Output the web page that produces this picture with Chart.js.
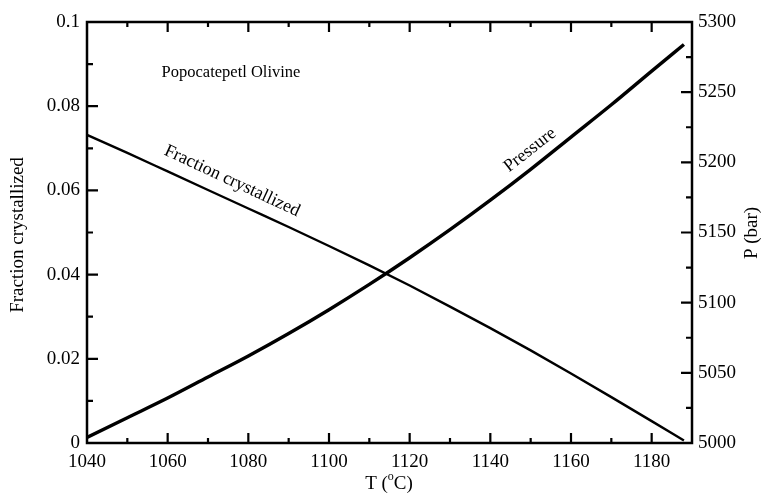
<!DOCTYPE html>
<html>
<head>
<meta charset="utf-8">
<script src="https://cdn.jsdelivr.net/npm/chart.js@4"></script>
<style>
  html, body { margin: 0; padding: 0; background: #fff; }
</style>
</head>
<body>
<canvas id="chart" width="768" height="494"></canvas>
<script>
    // valores (T em °C)
    const temps = [1040, 1050, 1060, 1070, 1080, 1090, 1100, 1110, 1120, 1130, 1140, 1150, 1160, 1170, 1180, 1188];
    const fractionCryst = [0.0732, 0.0689, 0.0645, 0.0601, 0.0557, 0.0513, 0.0468, 0.0422, 0.0374, 0.0324, 0.0273, 0.0220, 0.0165, 0.0109, 0.0052, 0.0006];
    const pressureBar = [5004, 5018, 5032, 5047, 5062, 5078, 5095, 5113, 5132, 5152, 5173, 5195, 5218, 5241, 5265, 5284];

    const serif = "'Liberation Serif', 'DejaVu Serif', serif";

    // util: pares {x,y}
    function pairs(xs, ys){
      return xs.map((x, i) => ({ x: x, y: ys[i] }));
    }

    // ticks internos, moldura e textos
    const framePlugin = {
      id: 'frame',
      afterDraw(chart){
        const ctx = chart.ctx;
        const a = chart.chartArea;
        const sx = chart.scales.x, sy = chart.scales.y, sp = chart.scales.y2;
        ctx.save();
        ctx.strokeStyle = '#000';
        ctx.lineWidth = 2.5;
        ctx.strokeRect(a.left, a.top, a.right - a.left, a.bottom - a.top);

        ctx.lineWidth = 2.2;
        ctx.beginPath();
        for (let v = 1050; v < 1190; v += 10){
          const px = sx.getPixelForValue(v);
          const len = v % 20 === 0 ? 10 : 5;
          ctx.moveTo(px, a.bottom); ctx.lineTo(px, a.bottom - len);
          ctx.moveTo(px, a.top); ctx.lineTo(px, a.top + len);
        }
        for (let i = 1; i < 10; i++){
          const py = sy.getPixelForValue(i / 100);
          const len = i % 2 === 0 ? 11 : 6;
          ctx.moveTo(a.left, py); ctx.lineTo(a.left + len, py);
        }
        for (let v = 5025; v < 5300; v += 25){
          const py = sp.getPixelForValue(v);
          const len = v % 50 === 0 ? 11 : 6;
          ctx.moveTo(a.right, py); ctx.lineTo(a.right - len, py);
        }
        ctx.stroke();

        ctx.fillStyle = '#000';
        ctx.textAlign = 'center';
        ctx.textBaseline = 'middle';
        ctx.font = '16.5px ' + serif;
        ctx.fillText('Popocatepetl Olivine', 231, 73);

        ctx.font = '18px ' + serif;
        ctx.save();
        ctx.translate(232, 181);
        ctx.rotate(25 * Math.PI / 180);
        ctx.fillText('Fraction crystallized', 0, 0);
        ctx.restore();

        ctx.save();
        ctx.translate(530, 150);
        ctx.rotate(-38 * Math.PI / 180);
        ctx.fillText('Pressure', 0, 0);
        ctx.restore();

        // títulos dos eixos
        ctx.font = '19px ' + serif;
        ctx.save();
        ctx.translate(18, 235);
        ctx.rotate(-Math.PI / 2);
        ctx.fillText('Fraction crystallized', 0, 0);
        ctx.restore();

        ctx.save();
        ctx.translate(752, 233);
        ctx.rotate(-Math.PI / 2);
        ctx.fillText('P (bar)', 0, 0);
        ctx.restore();

        // T (°C) com o sobrescrito
        const p1 = 'T (', p2 = 'o', p3 = 'C)';
        ctx.textAlign = 'left';
        ctx.font = '19px ' + serif;
        const w1 = ctx.measureText(p1).width;
        const w3 = ctx.measureText(p3).width;
        ctx.font = '12px ' + serif;
        const w2 = ctx.measureText(p2).width;
        const total = w1 + w2 + w3;
        const x0 = 389 - total / 2;
        ctx.font = '19px ' + serif;
        ctx.fillText(p1, x0, 484);
        ctx.font = '12px ' + serif;
        ctx.fillText(p2, x0 + w1, 477);
        ctx.font = '19px ' + serif;
        ctx.fillText(p3, x0 + w1 + w2, 484);
        ctx.restore();
      }
    };

    const tickFont = { family: serif, size: 19 };

    const chart = new Chart(document.getElementById('chart'), {
      type: 'line',
      data: {
        datasets: [
          {
            label: 'Fraction crystallized',
            data: pairs(temps, fractionCryst),
            yAxisID: 'y',
            borderColor: '#000',
            borderWidth: 2.4,
            pointRadius: 0,
            cubicInterpolationMode: 'monotone',
            fill: false
          },
          {
            label: 'Pressure',
            data: pairs(temps, pressureBar),
            yAxisID: 'y2',
            borderColor: '#000',
            borderWidth: 3.4,
            pointRadius: 0,
            cubicInterpolationMode: 'monotone',
            fill: false
          }
        ]
      },
      options: {
        responsive: false,
        animation: false,
        devicePixelRatio: 1,
        layout: { padding: { top: 22, left: 0, right: 0, bottom: 0 } },
        plugins: { legend: { display: false }, tooltip: { enabled: false } },
        scales: {
          x: {
            type: 'linear',
            min: 1040, max: 1190,
            grid: { display: false, drawTicks: false },
            border: { display: false },
            ticks: {
              stepSize: 10,
              autoSkip: false,
              maxRotation: 0,
              padding: 8,
              color: '#000',
              font: tickFont,
              callback: v => (v % 20 === 0 && v < 1190) ? String(v) : ''
            },
            afterFit: s => { s.height = 51; }
          },
          y: {
            position: 'left',
            min: 0, max: 0.1,
            grid: { display: false, drawTicks: false },
            border: { display: false },
            ticks: {
              stepSize: 0.02,
              padding: 7,
              color: '#000',
              font: tickFont,
              callback: v => String(+v.toFixed(2))
            },
            afterFit: s => { s.width = 87; }
          },
          y2: {
            position: 'right',
            min: 5000, max: 5300,
            grid: { display: false, drawTicks: false },
            border: { display: false },
            ticks: {
              stepSize: 50,
              padding: 6,
              color: '#000',
              font: tickFont,
              callback: v => String(v)
            },
            afterFit: s => { s.width = 76; }
          }
        }
      },
      plugins: [framePlugin]
    });
</script>
</body>
</html>
